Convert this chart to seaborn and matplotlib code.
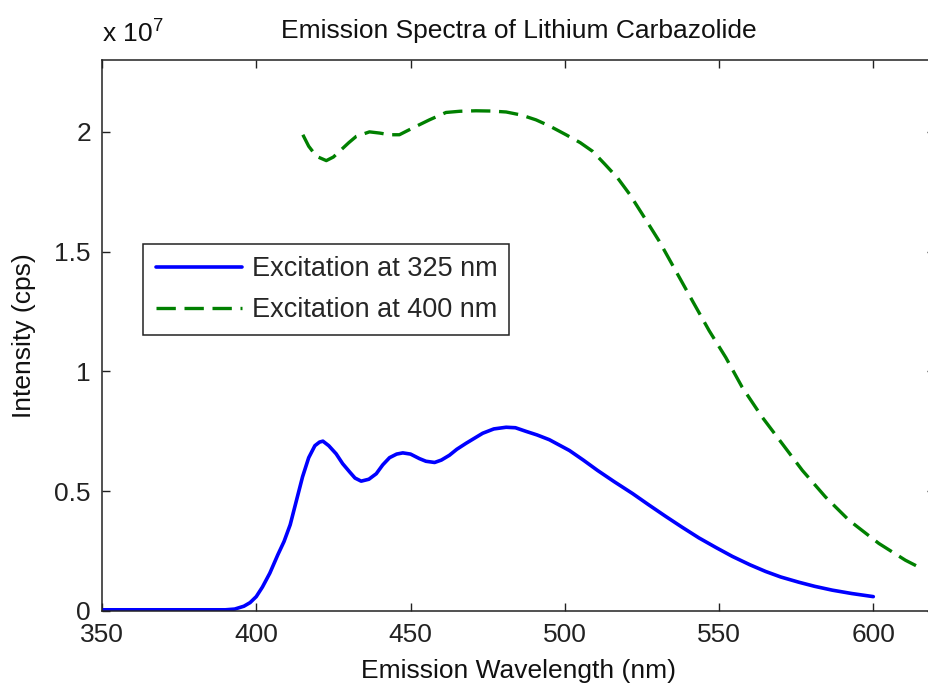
import numpy as np
import pandas as pd
import matplotlib
matplotlib.use("Agg")
import matplotlib.pyplot as plt
import seaborn as sns

# ---- data (intensity in units of 1e7 cps) ----
blue_nm = [350, 360, 370, 380, 390, 393, 396, 398, 400, 402, 404.4, 407, 409, 411, 413,
           415, 417, 419, 420.5, 421.6, 423.5, 425.9, 428, 430.3, 432, 434, 436.5, 438.9,
           441, 443.2, 445.5, 447.5, 450, 452.9, 455, 457.8, 460, 462.6, 465, 468, 473.4,
           477, 481, 484, 487.4, 491, 495, 501.5, 506, 510.6, 516, 522, 527, 532.7,
           538, 543.5, 549, 554.3, 560, 565.1, 570, 575.9, 581, 586.7, 593, 600]
blue_val = [0.005, 0.005, 0.005, 0.005, 0.005, 0.008, 0.02, 0.035, 0.06, 0.10, 0.158,
            0.235, 0.29, 0.36, 0.46, 0.56, 0.64, 0.69, 0.705, 0.709, 0.69, 0.656, 0.615,
            0.58, 0.555, 0.542, 0.55, 0.573, 0.61, 0.64, 0.655, 0.66, 0.655, 0.636, 0.625,
            0.62, 0.63, 0.65, 0.675, 0.70, 0.742, 0.76, 0.767, 0.765, 0.75, 0.735, 0.715,
            0.67, 0.63, 0.587, 0.54, 0.49, 0.445, 0.395, 0.35, 0.305, 0.265, 0.228, 0.193,
            0.165, 0.142, 0.12, 0.103, 0.087, 0.073, 0.06]

green_nm = [415.1, 417, 419.5, 422.7, 425, 427, 430, 432.4, 436.7, 440, 443.2, 446.4,
            449, 451.8, 456.1, 461.5, 466, 471.2, 476, 481, 486, 490.7, 495, 500.4,
            505, 509, 513, 517.1, 521, 525.2, 530.6, 536, 541.4, 546.8, 552.2, 557.5,
            564, 570.5, 577, 584.5, 592.1, 601.8, 610.4, 616]
green_val = [1.988, 1.94, 1.898, 1.88, 1.895, 1.919, 1.955, 1.981, 2.0, 1.995, 1.988,
             1.988, 2.005, 2.023, 2.05, 2.081, 2.086, 2.088, 2.087, 2.083, 2.07, 2.05,
             2.025, 1.988, 1.955, 1.919, 1.865, 1.808, 1.74, 1.655, 1.544, 1.419, 1.294,
             1.17, 1.058, 0.934, 0.809, 0.698, 0.587, 0.476, 0.379, 0.282, 0.212, 0.175]

labels = ["Excitation at 325 nm", "Excitation at 400 nm"]
x_ticks = [350, 400, 450, 500, 550, 600]
y_ticks = [0, 0.5, 1, 1.5, 2]
y_tick_labels = ["0", "0.5", "1", "1.5", "2"]

df = pd.concat([
    pd.DataFrame({"nm": blue_nm, "val": blue_val, "series": labels[0]}),
    pd.DataFrame({"nm": green_nm, "val": green_val, "series": labels[1]}),
])

sns.set_theme(style="ticks")
plt.rcParams["font.family"] = ["Liberation Sans", "DejaVu Sans"]
plt.rcParams["mathtext.fontset"] = "custom"
plt.rcParams["mathtext.rm"] = "Liberation Sans"
plt.rcParams["mathtext.it"] = "Liberation Sans"

FS = 19
fig = plt.figure(figsize=(9.29, 6.85), dpi=100)
ax = fig.add_axes([102 / 929, 74 / 685, (935 - 102) / 929, (611 - 60) / 685])

sns.lineplot(data=df, x="nm", y="val", hue="series", style="series",
             palette={labels[0]: "#0000FF", labels[1]: "#008000"},
             dashes={labels[0]: "", labels[1]: (5.8, 2.6)},
             sort=False, estimator=None, ax=ax, legend=False)
for ln in ax.get_lines():
    if ln.get_color() in ("#0000FF", "#0000ff"):
        ln.set_linewidth(2.6)
    else:
        ln.set_linewidth(2.4)
    ln.set_solid_joinstyle("round")
    ln.set_dash_joinstyle("round")

ax.set_xlim(350, 620)
ax.set_ylim(0, 2.3)
ax.set_xticks(x_ticks)
ax.set_yticks(y_ticks)
ax.set_yticklabels(y_tick_labels)
ax.tick_params(direction="in", length=6, width=1, top=True, right=True,
               labelsize=FS, colors="#222222")
ax.tick_params(axis="x", pad=9)
ax.tick_params(axis="y", pad=8)
for s in ax.spines.values():
    s.set_visible(True)
    s.set_linewidth(1.1)
    s.set_color("#222222")

ax.set_xlabel("Emission Wavelength (nm)", fontsize=FS, color="#111111", labelpad=8)
ax.set_ylabel("Intensity (cps)", fontsize=FS, color="#111111", labelpad=13)
ax.set_title("Emission Spectra of Lithium Carbazolide", fontsize=FS, color="#111111", pad=16)
ax.text(0, 1.022, r"x 10$^{7}$", transform=ax.transAxes, ha="left", va="bottom",
        fontsize=FS, color="#111111")

lines = ax.get_lines()[:2]
leg = ax.legend(lines, labels, loc="upper left", bbox_to_anchor=(0.0496, 0.666),
                borderaxespad=0, fontsize=19.5, frameon=True, fancybox=False,
                framealpha=1, edgecolor="#222222", handlelength=3.2,
                handletextpad=0.35, borderpad=0.45, labelspacing=0.55)
leg.get_frame().set_linewidth(1.1)

fig.savefig("out.png", dpi=100, facecolor="white")
